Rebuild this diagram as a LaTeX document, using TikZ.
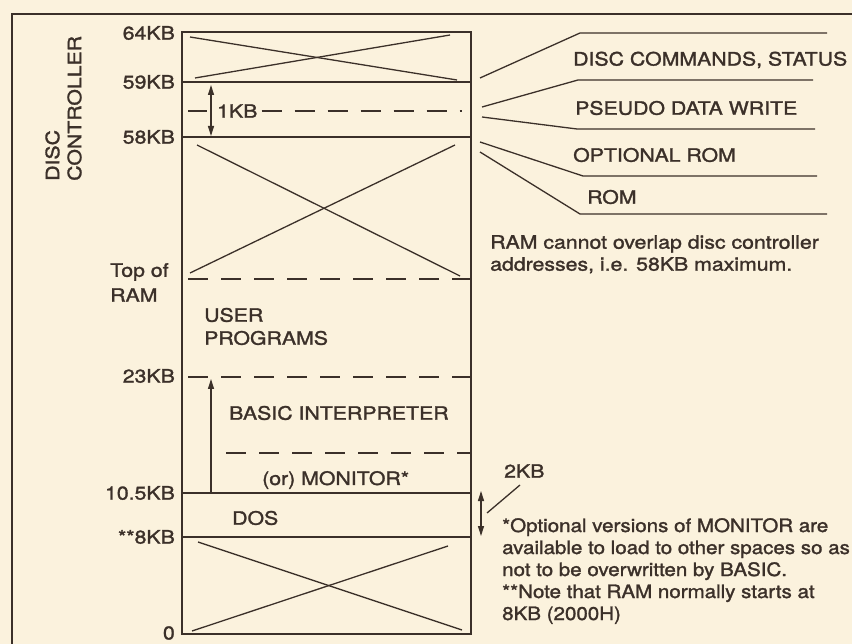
\documentclass[tikz,border=0pt]{standalone}
\usepackage{fontspec}
\setmainfont{TeX Gyre Heros}[FakeStretch=1.15,FakeBold=1.5]
\newfontfamily\notefont{TeX Gyre Heros}[FakeStretch=1.11,FakeBold=1.5]
\usetikzlibrary{arrows.meta}
\definecolor{paper}{HTML}{FBF2DD}
\definecolor{ink}{HTML}{3B3029}
\begin{document}
\begin{tikzpicture}[x=1pt,y=-1pt,
  every node/.style={font=\fontsize{18.5}{22}\selectfont, text=ink, inner sep=0pt},
  heavy/.style={draw=ink, line width=2pt},
  thin/.style={draw=ink, line width=1.3pt},
  dashline/.style={draw=ink, line width=1.4pt, dash pattern=on 20pt off 13pt},
  tip/.style={-{Triangle[length=10pt,width=6pt]}},
  dtip/.style={{Triangle[length=10pt,width=6pt]}-{Triangle[length=10pt,width=6pt]}},
  lab/.style={anchor=east},
  txt/.style={anchor=west}]
\fill[paper] (0,0) rectangle (852,644);
\useasboundingbox (0,0) rectangle (852,644);
% frame
\draw[heavy] (12,644) -- (12,14) -- (852,14);
% memory column
\draw[heavy] (182,32) rectangle (471,634);
\draw[thin] (182,82) -- (471,82);
\draw[thin] (182,137) -- (471,137);
\draw[thin] (182,493) -- (471,493);
\draw[thin] (182,537) -- (471,537);
% crosses
\draw[thin] (190,37) -- (457,80);
\draw[thin] (195,78) -- (450,35);
\draw[thin] (197,145) -- (460,276);
\draw[thin] (190,273) -- (455,145);
\draw[thin] (198,542) -- (462,630);
\draw[thin] (192,631) -- (448,546);
% dashed boundaries
\draw[dashline] (188,279) -- (470,279);
\draw[dashline] (188,377) -- (470,377);
\draw[dashline] (226,453) -- (470,453);
% 1KB
\draw[thin] (188,111) -- (207,111);
\node[txt] (kb1) at (217,111) {1KB};
\draw[dashline] ([xshift=4pt]kb1.east) -- (462,111);
\draw[thin, dtip] (211,85) -- (211,136);
% arrow up
\draw[thin, tip] (211,492) -- (211,379);
% inner texts
\node[txt] (user) at (204,315) {USER};
\node[txt] (prog) at (204,338) {PROGRAMS};
\node[txt] (basic) at (229,413) {BASIC INTERPRETER};
\node[txt] (mon) at (262,480) {(or) MONITOR*};
\node[txt] (dos) at (232,518) {DOS};
% left labels
\node[lab] (l64) at (175,33) {64KB};
\node[lab] (l59) at (175,82) {59KB};
\node[lab] (l58) at (175,137) {58KB};
\node[txt] (top) at (110,272) {Top of};
\node[txt] (ram) at (110,295) {RAM};
\node[lab] (l23) at (175,376) {23KB};
\node[lab] (l105) at (175,493) {10.5KB};
\node[lab] (l8) at (175,537) {**8KB};
\node[lab] (l0) at (175,633) {0};
\node[rotate=90, anchor=west, align=left] (dc) at (63.5,181) {DISC\\CONTROLLER};
% right side labels
\coordinate (a1) at (480,78);
\coordinate (a2) at (482,107);
\coordinate (a3) at (482,117);
\coordinate (a4) at (480,142);
\coordinate (a5) at (480,152);
\draw[thin] (a1) -- (580,33) -- (827,33);
\draw[thin] (a2) -- (578,80) -- (813,80);
\draw[thin] (a3) -- (577,129) -- (815,129);
\draw[thin] (a4) -- (583,176) -- (817,176);
\draw[thin] (a5) -- (580,214) -- (827,214);
\node[txt] (t1) at (573,60) {DISC COMMANDS, STATUS};
\node[txt] (t2) at (575,108) {PSEUDO DATA WRITE};
\node[txt] (t3) at (573,155) {OPTIONAL ROM};
\node[txt] (t4) at (587,197) {ROM};
\node[txt, align=left, anchor=north west] (note1) at (490,235) {RAM cannot overlap disc controller\\addresses, i.e. 58KB maximum.};
% 2KB
\node[txt] (kb2) at (504,471) {2KB};
\draw[thin, dtip] (481,491) -- (481,536);
\draw[thin] (520,485) -- (487,513);
\node[txt, align=left, anchor=north west, font=\notefont\fontsize{18.5}{22}\selectfont] (note2) at (502,518) {*Optional versions of MONITOR are\\available to load to other spaces so as\\not to be overwritten by BASIC.\\**Note that RAM normally starts at\\8KB (2000H)};
\end{tikzpicture}
\end{document}
